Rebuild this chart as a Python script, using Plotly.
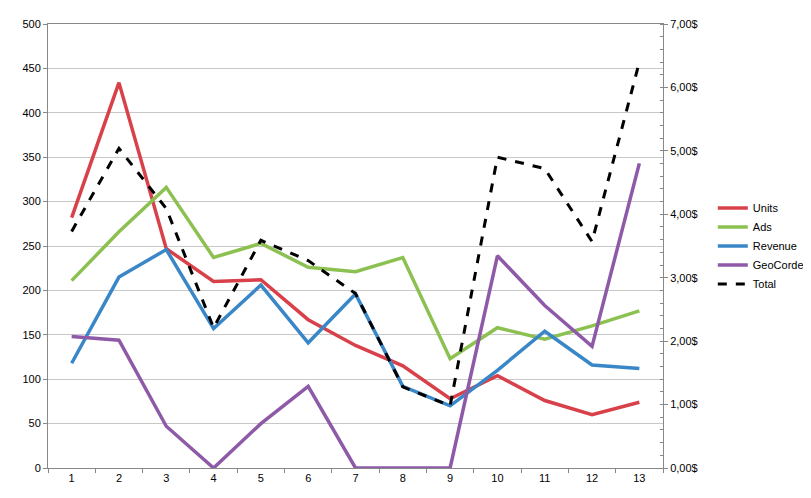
import plotly.graph_objects as go

x = list(range(1, 14))
units = [282, 434, 247, 210, 212, 167, 138, 115, 78, 104, 76, 60, 74]
ads = [211, 266, 316, 237, 253, 226, 221, 237, 123, 158, 145, 160, 177]
revenue = [118, 215, 246, 157, 206, 141, 196, 92, 70, 110, 154, 116, 112]
geocorder = [148, 144, 47, 0, 50, 92, 0, 0, 0, 239, 183, 137, 343]
total = [3.73, 5.04, 4.09, 2.21, 3.59, 3.27, 2.75, 1.28, 0.98, 4.90, 4.72, 3.57, 6.40]

fig = go.Figure()
for name, ys, c in [("Units", units, "#d9414a"), ("Ads", ads, "#8cc152"),
                    ("Revenue", revenue, "#3a87c8"), ("GeoCorder", geocorder, "#8e5aa8")]:
    fig.add_trace(go.Scatter(x=x, y=ys, name=name, mode="lines", line=dict(color=c, width=3.5)))
fig.add_trace(go.Scatter(x=x, y=total, name="Total", mode="lines", yaxis="y2",
                         line=dict(color="black", width=3, dash="dash")))

fig.update_layout(
    width=811, height=498, margin=dict(l=40, r=156, t=16, b=38, autoexpand=False),
    paper_bgcolor="white", plot_bgcolor="white", separators=",.",
    font=dict(family="Liberation Sans, Arial", size=11, color="black"),
    xaxis=dict(range=[0.5, 13.5], tickvals=x, showgrid=False, showline=True, linecolor="#888",
               mirror=True, ticks="", 
               minor=dict(ticks="outside", tick0=0.5, dtick=1, ticklen=4, tickcolor="#888", showgrid=False)),
    yaxis=dict(range=[0, 500], dtick=50, gridcolor="#c8c8c8", showline=True, linecolor="#888",
               ticks="outside", ticklen=4, tickcolor="#888", zeroline=False),
    yaxis2=dict(range=[0, 7], dtick=1, overlaying="y", side="right", tickformat=".2f",
                ticksuffix="$", showgrid=False, showline=True, linecolor="#888",
                ticks="outside", ticklen=4, tickcolor="#888", zeroline=False,
                minor=dict(ticks="inside", dtick=0.2, ticklen=3, tickcolor="#888", showgrid=False)),
    legend=dict(x=1.081, y=0.5, yanchor="middle", xanchor="left", bgcolor="rgba(0,0,0,0)",
                font=dict(size=11), tracegroupgap=0),
)
fig.write_html("out.html")
